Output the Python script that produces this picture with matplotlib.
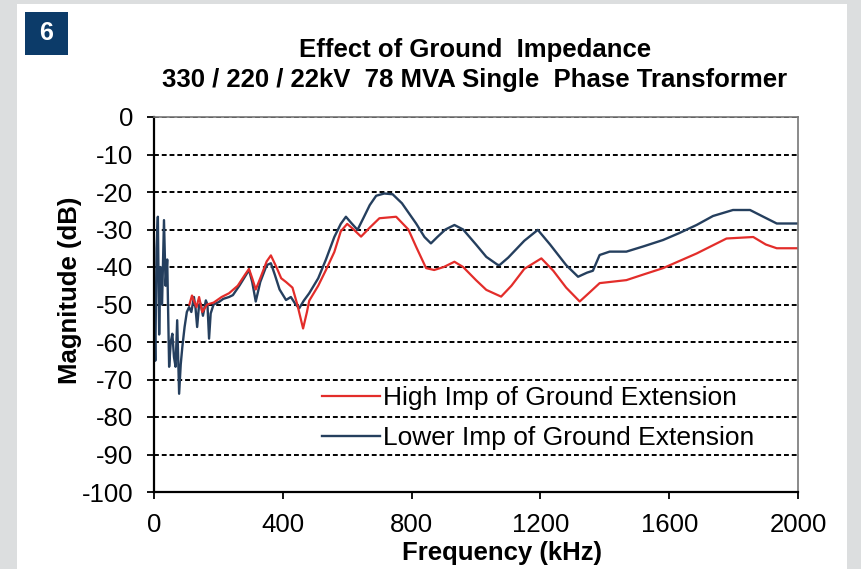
import matplotlib.pyplot as plt
from matplotlib.patches import Rectangle

plt.rcParams["font.family"] = ["Liberation Sans", "DejaVu Sans"]
plt.rcParams["axes.unicode_minus"] = False

# lower impedance of ground extension (blue)
blue_f = [0, 4, 8, 12, 16, 20, 25, 31, 36, 41, 47, 52, 57, 62, 67, 72, 78, 83,
          88, 95, 102, 109, 116, 124, 129, 134, 140, 145, 152, 161, 166, 171,
          176, 185, 202, 215, 233, 245, 265, 283, 295, 305, 316, 330, 350, 363,
          375, 390, 410, 425, 440, 451, 465, 482, 510, 534, 560, 580, 596, 610,
          632, 650, 670, 690, 715, 741, 770, 814, 840, 860, 880, 905, 933, 960,
          1000, 1032, 1067, 1073, 1100, 1150, 1192, 1230, 1280, 1317, 1345,
          1363, 1384, 1415, 1467, 1520, 1581, 1630, 1685, 1736, 1798, 1851,
          1890, 1934, 2000]
blue_db = [-45, -65, -35, -26.6, -58, -40, -50, -27.5, -45, -38, -66.6, -60,
           -57.8, -64, -66.6, -54.2, -73.8, -66, -61.3, -56, -52, -50.7, -52,
           -48, -51, -56, -50, -49.8, -53, -48.9, -50, -59.1, -52.4, -50, -49.3,
           -48.5, -48, -47.5, -45, -42.5, -40.8, -44, -49.2, -44, -39.5, -39,
           -42, -46, -48.8, -48, -50, -51, -49, -47, -43, -38, -32, -28.5,
           -26.6, -28, -30.1, -27, -23.5, -21, -20.4, -20.6, -23, -28.4, -32,
           -33.7, -32, -30, -28.8, -30, -34, -37.3, -39.4, -39.5, -37.5, -33,
           -30.1, -34, -39.5, -42.6, -41.5, -41, -36.8, -35.9, -35.9, -34.5,
           -32.8, -31, -28.8, -26.4, -24.8, -24.8, -26.5, -28.4, -28.4]

# high impedance of ground extension (red)
red_f = [110, 118, 124, 132, 140, 150, 165, 185, 210, 233, 260, 283, 295, 305,
         316, 330, 350, 363, 380, 395, 410, 430, 445, 463, 475, 482, 510, 534,
         560, 580, 600, 620, 643, 670, 700, 752, 790, 814, 845, 870, 900, 933,
         960, 1000, 1032, 1078, 1110, 1150, 1203, 1240, 1280, 1322, 1350, 1384,
         1467, 1520, 1581, 1685, 1778, 1861, 1900, 1934, 2000]
red_db = [-50, -47.6, -49, -50.7, -48, -52, -50, -49.5, -48, -47, -45, -42,
          -40.5, -43, -46, -43, -38.5, -36.9, -40, -43, -44, -45.5, -50, -56.4,
          -52, -49, -45, -40.8, -36, -30.5, -28.5, -30, -31.9, -29.5, -27,
          -26.6, -30, -34.6, -40.3, -40.8, -40, -38.6, -40, -43.5, -46.1,
          -47.9, -45, -40.5, -37.7, -41, -45.5, -49.2, -47, -44.3, -43.5, -42,
          -40.3, -36.4, -32.4, -32, -34, -35, -35]

x_ticks = [0, 400, 800, 1200, 1600, 2000]
y_ticks = list(range(-100, 1, 10))

W, H = 861, 569
fig = plt.figure(figsize=(W / 100, H / 100), dpi=100, facecolor="#dcdedf")
fig.patches.append(Rectangle((17 / W, 0), 830 / W, 565 / H, transform=fig.transFigure,
                             facecolor="white", edgecolor="none", zorder=-2))
fig.patches.append(Rectangle((25 / W, 1 - 55 / H), 43 / W, 43 / H, transform=fig.transFigure,
                             facecolor="#0c3b69", edgecolor="none", zorder=-1))
fig.text(46.5 / W, 1 - 33.5 / H, "6", color="white", fontsize=18, fontweight="bold",
         ha="center", va="center")

ax = fig.add_axes([154 / W, 1 - 492 / H, 644 / W, 375 / H])
ax.plot(blue_f, blue_db, color="#253f5e", linewidth=1.7, label="Lower Imp of Ground Extension")
ax.plot(red_f, red_db, color="#e32d2a", linewidth=1.6, label="High Imp of Ground Extension")

ax.set_xlim(0, 2000)
ax.set_ylim(-100, 0)
ax.set_xticks(x_ticks)
ax.set_yticks(y_ticks)
ax.grid(axis="y", color="black", linestyle=(0, (2.5, 1.5)), linewidth=1.4)
ax.tick_params(labelsize=18.5, length=5, width=1.3, color="black")
ax.tick_params(axis="y", pad=10)
ax.tick_params(axis="x", pad=10)
for s in ["left", "bottom"]:
    ax.spines[s].set_linewidth(1.6)
    ax.spines[s].set_color("black")
for s in ["top", "right"]:
    ax.spines[s].set_linewidth(1.2)
    ax.spines[s].set_color("#777777")

handles, labels = ax.get_legend_handles_labels()
ax.legend(handles[::-1], labels[::-1], loc="center left", bbox_to_anchor=(0.261, 0.197),
          frameon=False, fontsize=19, handlelength=2.2, handletextpad=0.1,
          borderpad=0, borderaxespad=0, labelspacing=0.6)

fig.text(475 / W, 1 - 50 / H, "Effect of Ground  Impedance", fontsize=18.5,
         fontweight="bold", ha="center", va="center")
fig.text(475 / W, 1 - 80 / H, "330 / 220 / 22kV  78 MVA Single  Phase Transformer",
         fontsize=18.5, fontweight="bold", ha="center", va="center")
fig.text(70 / W, 1 - 290 / H, "Magnitude (dB)", fontsize=18.5, fontweight="bold",
         rotation=90, ha="center", va="center")
fig.text(502 / W, 1 - 553 / H, "Frequency (kHz)", fontsize=18.5, fontweight="bold",
         ha="center", va="center")

fig.savefig("out.png", dpi=100, facecolor=fig.get_facecolor())
